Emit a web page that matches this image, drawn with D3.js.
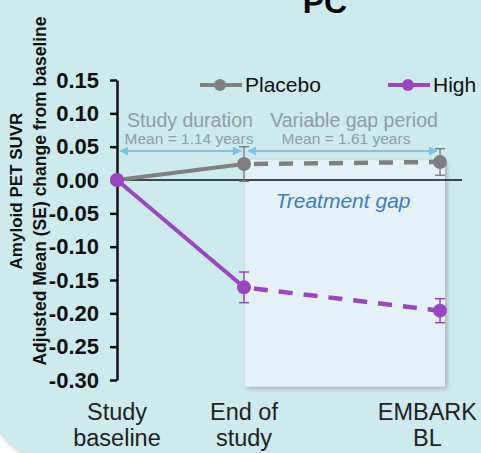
<!DOCTYPE html>
<html>
<head>
<meta charset="utf-8">
<script src="https://cdn.jsdelivr.net/npm/d3@7"></script>
<style>
  body { margin: 0; background: #fff; }
  svg { display: block; font-family: Arial, "Liberation Sans", sans-serif; }
</style>
</head>
<body>
<div id="chart"></div>
<script>
// data
var timepoints = ["Study baseline", "End of study", "EMBARK BL"];
var timeLabels = [["Study", "baseline"], ["End of", "study"], ["EMBARK", "BL"]];
var placeboMean = [0, 0.024, 0.027];
var placeboSE = [0, 0.026, 0.02];
var highMean = [0, -0.161, -0.196];
var highSE = [0, 0.023, 0.018];
var yTicks = [0.15, 0.10, 0.05, 0.00, -0.05, -0.10, -0.15, -0.20, -0.25, -0.30];

var width = 481, height = 453;
var svg = d3.select("#chart").append("svg")
  .attr("width", width).attr("height", height);

// background panel with rounded corner at lower left
var defs = svg.append("defs");
var f = defs.append("filter").attr("id", "sh").attr("x", "-20%").attr("y", "-20%").attr("width", "140%").attr("height", "140%");
f.append("feDropShadow").attr("dx", 2).attr("dy", 2).attr("stdDeviation", 2).attr("flood-color", "#888").attr("flood-opacity", 0.6);

svg.append("path")
  .attr("d", "M-10,-10 H500 V470 H60 Q10,455 -10,418 Z")
  .attr("fill", "#cdeaed")
  .attr("filter", "url(#sh)");

var x = d3.scaleOrdinal().domain(timepoints).range([117, 244, 440]);
var y = d3.scaleLinear().domain([-0.30, 0.15]).range([380, 80]);

// treatment gap box
svg.append("rect")
  .attr("x", x(timepoints[1]) + 1)
  .attr("y", y(0.03))
  .attr("width", x(timepoints[2]) - x(timepoints[1]) + 4)
  .attr("height", y(-0.31) - y(0.03))
  .attr("fill", "#e4f2f8")
  .attr("filter", "url(#sh)");

svg.append("text")
  .attr("x", 343).attr("y", 208)
  .attr("text-anchor", "middle")
  .attr("font-size", 21).attr("font-style", "italic")
  .attr("fill", "#3a7cc8")
  .text("Treatment gap");

// title
svg.append("text")
  .attr("x", 325).attr("y", 13)
  .attr("text-anchor", "middle")
  .attr("font-size", 32).attr("font-weight", "bold")
  .text("PC");

// zero line
svg.append("line")
  .attr("x1", 117).attr("x2", 462)
  .attr("y1", y(0)).attr("y2", y(0))
  .attr("stroke", "#111").attr("stroke-width", 1.5);

// y axis
var fmt = d3.format(".2f");
var yAxis = svg.append("g")
  .attr("transform", "translate(117,0)")
  .call(d3.axisLeft(y).tickValues(yTicks).tickSize(7).tickSizeOuter(0)
    .tickFormat(function (d) { return fmt(d).replace("\u2212", "-"); }));
yAxis.select(".domain").attr("stroke", "#111").attr("stroke-width", 2.5);
yAxis.selectAll(".tick line").attr("stroke", "#111").attr("stroke-width", 2.5);
yAxis.selectAll(".tick text")
  .attr("font-size", 22).attr("font-weight", "bold")
  .attr("font-family", "Arial, Liberation Sans, sans-serif")
  .attr("fill", "#111").attr("x", -18);

// y axis title
var yt = svg.append("text")
  .attr("transform", "translate(0,191) rotate(-90)")
  .attr("text-anchor", "middle")
  .attr("font-weight", "bold").attr("fill", "#111");
yt.append("tspan").attr("x", 0).attr("y", 22).attr("font-size", 17).text("Amyloid PET SUVR");
yt.append("tspan").attr("x", 0).attr("y", 46).attr("font-size", 17.5).text("Adjusted Mean (SE) change from baseline");

// x labels
timepoints.forEach(function (t, i) {
  var tx = svg.append("text")
    .attr("text-anchor", "middle")
    .attr("font-size", 23.5).attr("fill", "#222");
  var a = tx.append("tspan").attr("y", 420).text(timeLabels[i][0]);
  var b = tx.append("tspan").attr("y", 446).text(timeLabels[i][1]);
  var w = Math.max(a.node().getComputedTextLength(), b.node().getComputedTextLength());
  var cx = Math.min(x(t), width - w / 2 - 4);
  a.attr("x", cx); b.attr("x", cx);
});

// duration arrows
var arrowColor = "#7cc4e8";
defs.append("marker").attr("id", "arr").attr("viewBox", "0 0 10 10")
  .attr("refX", 9).attr("refY", 5).attr("markerWidth", 5).attr("markerHeight", 4.5)
  .attr("orient", "auto-start-reverse")
  .append("path").attr("d", "M0,0 L10,5 L0,10 Z").attr("fill", arrowColor);

function arrow(x1, x2) {
  svg.append("line")
    .attr("x1", x1).attr("x2", x2).attr("y1", 151).attr("y2", 151)
    .attr("stroke", arrowColor).attr("stroke-width", 2)
    .attr("marker-start", "url(#arr)").attr("marker-end", "url(#arr)");
}
arrow(120, 241);
arrow(248, 437);

function durText(cx, cx2, big, small) {
  svg.append("text").attr("x", cx).attr("y", 127).attr("text-anchor", "middle")
    .attr("font-size", 19.5).attr("fill", "#8f9ea3").text(big);
  svg.append("text").attr("x", cx2).attr("y", 144).attr("text-anchor", "middle")
    .attr("font-size", 15.5).attr("fill", "#8f9ea3").text(small);
}
durText(190, 189, "Study duration", "Mean = 1.14 years");
durText(354, 346, "Variable gap period", "Mean = 1.61 years");

// series
var series = [
  { name: "Placebo", color: "#808080", mean: placeboMean, se: placeboSE, lx: 200 },
  { name: "High", color: "#9b45c2", mean: highMean, se: highSE, lx: 388 }
];

series.forEach(function (s) {
  var pts = timepoints.map(function (t, i) { return { t: t, m: s.mean[i], se: s.se[i] }; });
  var line = d3.line().x(function (d) { return x(d.t); }).y(function (d) { return y(d.m); });
  svg.append("path").attr("d", line(pts.slice(0, 2)))
    .attr("fill", "none").attr("stroke", s.color).attr("stroke-width", 4);
  svg.append("path").attr("d", line(pts.slice(1)))
    .attr("fill", "none").attr("stroke", s.color).attr("stroke-width", 4.5)
    .attr("stroke-dasharray", "14,11").attr("stroke-dashoffset", -10);

  var eb = svg.append("g").selectAll("g").data(pts.filter(function (d) { return d.se > 0; }))
    .enter().append("g").attr("stroke", s.color).attr("stroke-width", 1.5);
  eb.append("line")
    .attr("x1", function (d) { return x(d.t); }).attr("x2", function (d) { return x(d.t); })
    .attr("y1", function (d) { return y(d.m + d.se); }).attr("y2", function (d) { return y(d.m - d.se); });
  [1, -1].forEach(function (sg) {
    eb.append("line")
      .attr("x1", function (d) { return x(d.t) - 5; }).attr("x2", function (d) { return x(d.t) + 5; })
      .attr("y1", function (d) { return y(d.m + sg * d.se); })
      .attr("y2", function (d) { return y(d.m + sg * d.se); });
  });

  svg.append("g").selectAll("circle").data(pts).enter().append("circle")
    .attr("cx", function (d) { return x(d.t); }).attr("cy", function (d) { return y(d.m); })
    .attr("r", 7).attr("fill", s.color);

  // legend
  svg.append("line").attr("x1", s.lx).attr("x2", s.lx + 42).attr("y1", 85).attr("y2", 85)
    .attr("stroke", s.color).attr("stroke-width", 4);
  svg.append("circle").attr("cx", s.lx + 20).attr("cy", 85).attr("r", 6).attr("fill", s.color);
  svg.append("text").attr("x", s.lx + 45).attr("y", 92).attr("font-size", 21)
    .attr("fill", "#111").text(s.name);
});
</script>
</body>
</html>
